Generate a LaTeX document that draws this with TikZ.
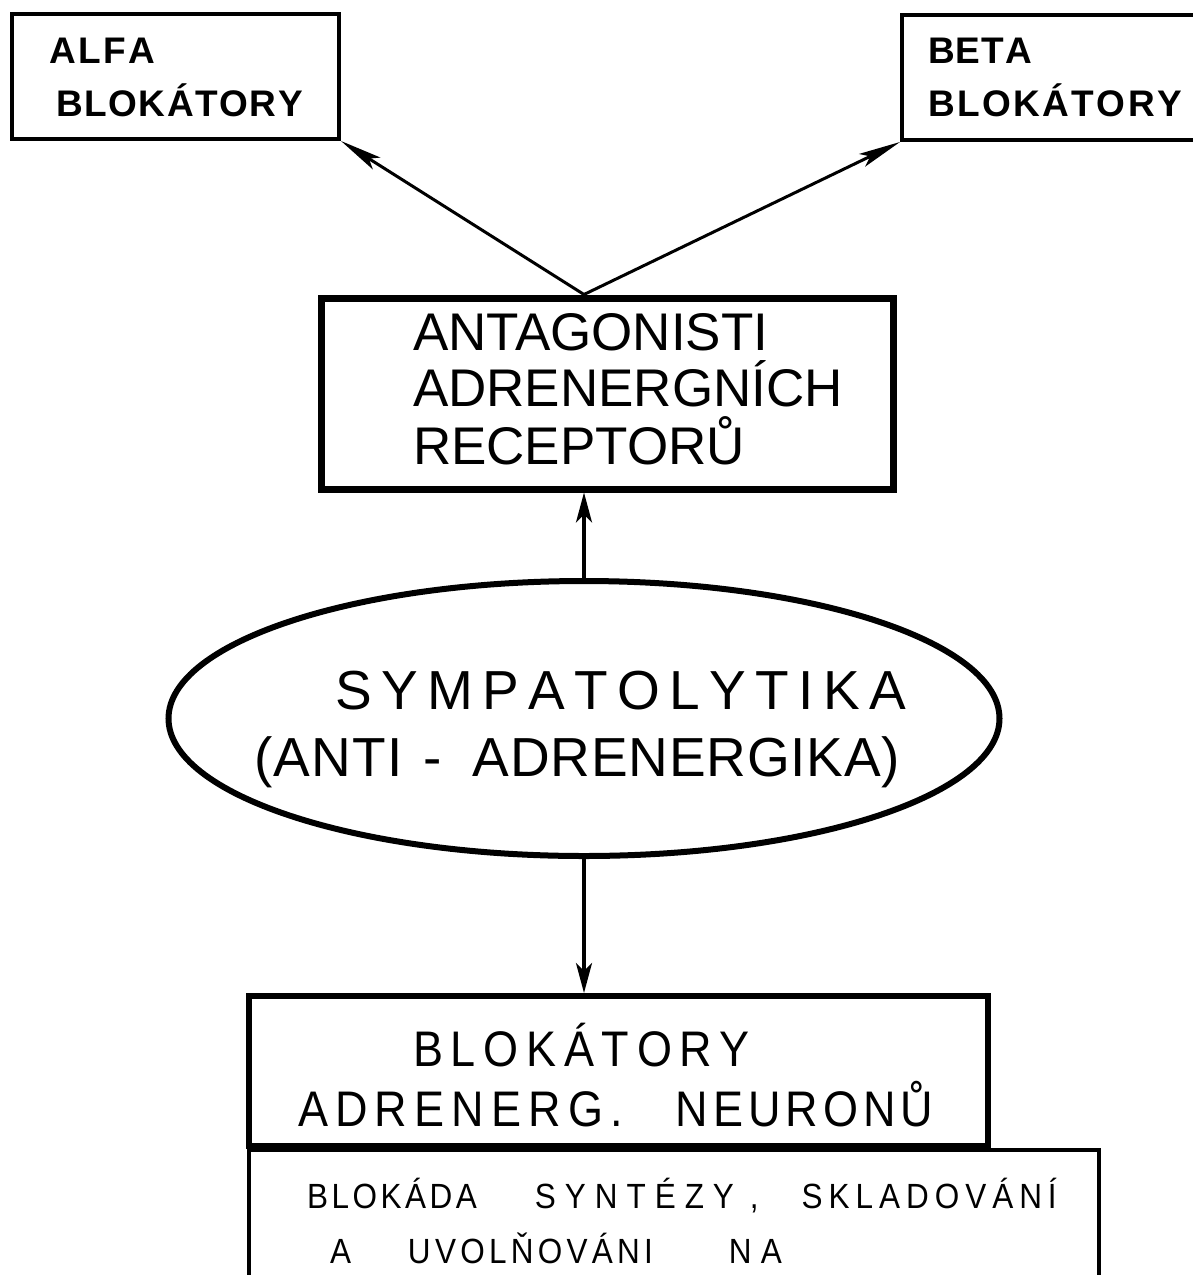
\documentclass[tikz,border=0pt]{standalone}
\usepackage{fontspec}
\setmainfont{Liberation Sans}
\newfontfamily\narrowfont{Liberation Sans}[FakeStretch=0.9]
\usetikzlibrary{shapes.geometric,arrows.meta}

% spread the letters of a word evenly over a given width
\makeatletter
\newcommand\spreadto[2]{\makebox[#1][s]{\spr@a#2\spr@end}}
\def\spr@end{\relax}
\def\spr@a#1{#1\futurelet\spr@next\spr@b}
\def\spr@b{\ifx\spr@next\spr@end\expandafter\@gobble\else\hfill\expandafter\spr@a\fi}
\makeatother

\tikzset{
  box/.style={draw, rectangle, inner sep=0pt},
  lbl/.style={anchor=base west, inner sep=0pt, outer sep=0pt},
  arr/.style={line width=3.5pt, -{Stealth[length=30pt,width=16pt,inset=8pt]}},
  slant/.style={line width=3pt, -{Stealth[length=42pt,width=14pt,inset=9pt]}},
  topfont/.style={font=\fontsize{37}{44}\selectfont\bfseries},
  antfont/.style={font=\fontsize{53}{60}\selectfont},
  symfont/.style={font=\fontsize{55}{62}\selectfont},
  blkfont/.style={font=\fontsize{50}{56}\selectfont\narrowfont},
  synfont/.style={font=\fontsize{35}{40}\selectfont\narrowfont},
}

\begin{document}
\begin{tikzpicture}[x=1pt,y=-1pt]
\useasboundingbox (0,0) rectangle (1193,1275);
\fill[white] (0,0) rectangle (1193,1275);

% frames
\node[box, line width=4pt, minimum width=327pt, minimum height=125pt] (alfa) at (175.5,76.5) {};
\node[box, line width=4pt, minimum width=348pt, minimum height=125pt] (beta) at (1076,77.5) {};
\node[box, line width=7pt, minimum width=572pt, minimum height=191pt] (ant) at (607,393.5) {};
\node[draw, ellipse, line width=6pt, minimum width=831pt, minimum height=275pt, inner sep=0pt] (sym) at (584,718.5) {};
\node[box, line width=6pt, minimum width=739pt, minimum height=150pt] (blk) at (618.5,1071) {};
\node[box, line width=4pt, minimum width=850pt, minimum height=160pt] (syn) at (674,1230) {};

% labels
\node[lbl, topfont] (alfa1) at (49,63) {\spreadto{106pt}{ALFA}};
\node[lbl, topfont] (alfa2) at (56,116) {\spreadto{247pt}{BLOKÁTORY}};
\node[lbl, topfont] (beta1) at (928,63) {\spreadto{104pt}{BETA}};
\node[lbl, topfont] (beta2) at (928,116) {\spreadto{254pt}{BLOKÁTORY}};

\node[lbl, antfont] (ant1) at (413,350) {ANTAGONISTI};
\node[lbl, antfont] (ant2) at (413,406) {ADRENERGNÍCH};
\node[lbl, antfont] (ant3) at (413,464) {RECEPTORŮ};

\node[lbl, symfont] (sym1) at (335,709) {\spreadto{571pt}{SYMPATOLYTIKA}};
\node[lbl, symfont] (sym2) at (254,776)
  {\spreadto{149pt}{(ANTI}\hspace{17pt}\makebox[25pt]{-}\hspace{28pt}\spreadto{427pt}{ADRENERGIKA)}};

\node[lbl, blkfont] (blk1) at (413,1066) {\spreadto{337pt}{BLOKÁTORY}};
\node[lbl, blkfont] (blk2) at (298,1126)
  {\spreadto{325pt}{ADRENERG.}\hspace{53pt}\spreadto{257pt}{NEURONŮ}};

\node[lbl, synfont] (syn1) at (307,1208)
  {\spreadto{170pt}{BLOKÁDA}\hspace{58pt}\spreadto{199pt}{SYNTÉZY}\hspace{16pt},\hspace{43pt}\spreadto{255pt}{SKLADOVÁNÍ}};
\node[lbl, synfont] (syn2) at (330,1263)
  {A\hspace{57pt}\spreadto{245pt}{UVOLŇOVÁNI}\hspace{76pt}\spreadto{53pt}{NA}};

% connectors
\coordinate (fork) at (ant.north -| sym.center);
\draw[slant] (fork) -- (alfa.south east);
\draw[slant] (fork) -- (beta.south west);
\draw[arr] (sym.north) -- (sym.north |- ant.south);
\draw[arr] (sym.south) -- (sym.south |- blk.north);
\end{tikzpicture}
\end{document}
